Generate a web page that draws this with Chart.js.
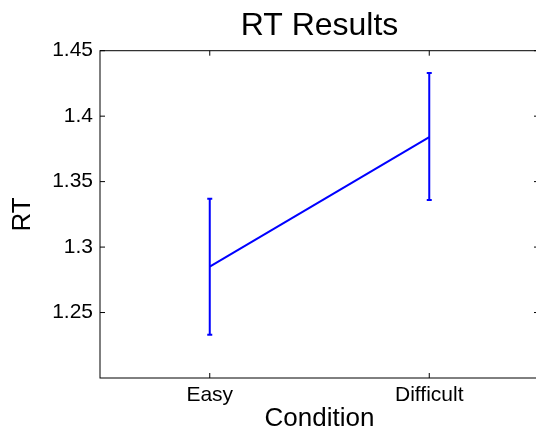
<!DOCTYPE html>
<html>
<head>
<meta charset="utf-8">
<script src="https://cdn.jsdelivr.net/npm/chart.js@4"></script>
<style>
    html, body { margin: 0; padding: 0; overflow: hidden; background: #fff; }
    #wrap { width: 540px; height: 440px; }
</style>
</head>
<body>
<div id="wrap"><canvas id="rtChart"></canvas></div>
<script>
const categories = ["Easy", "Difficult"];
const meanRT = [1.285, 1.384];
const lowerRT = [1.233, 1.336];
const upperRT = [1.337, 1.433];
const yTicks = [1.25, 1.3, 1.35, 1.4, 1.45];
const yTickLabels = ["1.25", "1.3", "1.35", "1.4", "1.45"];

const FONT = "'Liberation Sans', Arial, Helvetica, sans-serif";

// box around the plot with small inward ticks on all four sides
const boxTicks = {
    id: "boxTicks",
    afterDraw(chart) {
        const { ctx, chartArea: a, scales } = chart;
        const len = 5;
        ctx.save();
        ctx.strokeStyle = "#000";
        ctx.lineWidth = 1;
        ctx.strokeRect(a.left, a.top, a.right - a.left, a.bottom - a.top);
        ctx.beginPath();
        scales.y.ticks.forEach((t) => {
            const py = scales.y.getPixelForValue(t.value);
            ctx.moveTo(a.left, py);
            ctx.lineTo(a.left + len, py);
            ctx.moveTo(a.right, py);
            ctx.lineTo(a.right - len, py);
        });
        scales.x.ticks.forEach((t) => {
            const px = scales.x.getPixelForValue(t.value);
            ctx.moveTo(px, a.bottom);
            ctx.lineTo(px, a.bottom - len);
            ctx.moveTo(px, a.top);
            ctx.lineTo(px, a.top + len);
        });
        ctx.stroke();
        ctx.restore();
    },
};

// vertical error bars with tiny caps
const errorBars = {
    id: "errorBars",
    afterDatasetsDraw(chart) {
        const { ctx, scales } = chart;
        ctx.save();
        ctx.strokeStyle = "#0000ff";
        ctx.lineWidth = 2;
        ctx.beginPath();
        meanRT.forEach((m, i) => {
            const px = scales.x.getPixelForValue(i + 1);
            const lo = scales.y.getPixelForValue(lowerRT[i]);
            const hi = scales.y.getPixelForValue(upperRT[i]);
            ctx.moveTo(px, lo);
            ctx.lineTo(px, hi);
            ctx.moveTo(px - 2.5, lo);
            ctx.lineTo(px + 2.5, lo);
            ctx.moveTo(px - 2.5, hi);
            ctx.lineTo(px + 2.5, hi);
        });
        ctx.stroke();
        ctx.restore();
    },
};

new Chart(document.getElementById("rtChart"), {
    type: "line",
    data: {
        datasets: [
            {
                label: "RT",
                data: meanRT.map((v, i) => ({ x: i + 1, y: v })),
                borderColor: "#0000ff",
                backgroundColor: "#0000ff",
                borderWidth: 2,
                pointRadius: 0,
                tension: 0,
            },
        ],
    },
    options: {
        responsive: true,
        maintainAspectRatio: false,
        animation: false,
        layout: { padding: { left: 0, right: 1, top: 0, bottom: 0 } },
        plugins: {
            legend: { display: false },
            tooltip: { enabled: false },
            title: {
                display: true,
                fullSize: false, // centre over the plot box, like MATLAB
                text: "RT Results",
                color: "#000",
                font: { family: FONT, size: 32, weight: "normal", lineHeight: 1.2 },
                padding: { top: 6.5, bottom: 5.8 },
            },
        },
        scales: {
            x: {
                type: "linear",
                min: 0.5,
                max: 2.5,
                grid: { display: false, drawTicks: false },
                border: { display: false },
                afterBuildTicks: (scale) => {
                    scale.ticks = categories.map((c, i) => ({ value: i + 1 }));
                },
                afterFit: (scale) => {
                    scale.height = 62;
                },
                ticks: {
                    color: "#000",
                    padding: 5,
                    maxRotation: 0,
                    font: { family: FONT, size: 21, lineHeight: 1.2 },
                    callback: (v, i) => categories[i],
                },
                title: {
                    display: true,
                    text: "Condition",
                    color: "#000",
                    font: { family: FONT, size: 26, lineHeight: 1.2 },
                    padding: { top: 0, bottom: 5.5 },
                },
            },
            y: {
                min: 1.2,
                max: 1.45,
                grid: { display: false, drawTicks: false },
                border: { display: false },
                afterBuildTicks: (scale) => {
                    scale.ticks = yTicks.map((v) => ({ value: v }));
                },
                afterFit: (scale) => {
                    scale.width = 100;
                },
                ticks: {
                    color: "#000",
                    padding: 7,
                    font: { family: FONT, size: 21, lineHeight: 1.2 },
                    callback: (v, i) => yTickLabels[i],
                },
                title: {
                    display: true,
                    text: "RT",
                    color: "#000",
                    font: { family: FONT, size: 26, lineHeight: 1.2 },
                    padding: { top: 7.4, bottom: 0 },
                },
            },
        },
    },
    plugins: [errorBars, boxTicks],
});
</script>
</body>
</html>
